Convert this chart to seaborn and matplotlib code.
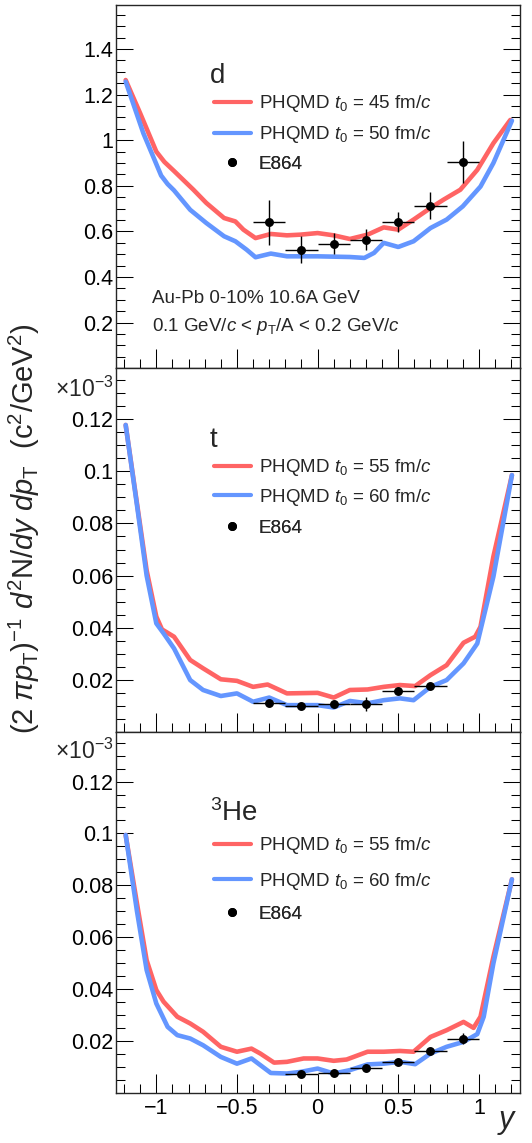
import numpy as np
import matplotlib
matplotlib.use("Agg")
import matplotlib.pyplot as plt
from matplotlib.ticker import MultipleLocator, FixedLocator, FuncFormatter
from matplotlib.lines import Line2D
import seaborn as sns

# ---------------- data ----------------
# deuterons
d_red_x = [-1.19, -1.1, -1.0, -0.95, -0.89, -0.77, -0.69, -0.58, -0.51, -0.46, -0.385, -0.29, -0.19, -0.107, 0.0, 0.1, 0.2, 0.31, 0.41, 0.5, 0.595, 0.7, 0.78, 0.885, 0.99, 1.09, 1.195]
d_red_v = [1.264, 1.118, 0.950, 0.905, 0.865, 0.783, 0.725, 0.659, 0.644, 0.608, 0.571, 0.589, 0.583, 0.586, 0.593, 0.583, 0.567, 0.586, 0.618, 0.608, 0.652, 0.703, 0.739, 0.783, 0.87, 0.987, 1.089]
d_blue_x = [-1.19, -1.08, -0.97, -0.93, -0.89, -0.79, -0.69, -0.58, -0.51, -0.44, -0.385, -0.29, -0.19, 0.0, 0.2, 0.29, 0.35, 0.41, 0.5, 0.595, 0.7, 0.8, 0.9, 1.01, 1.09, 1.205]
d_blue_v = [1.257, 1.03, 0.845, 0.808, 0.780, 0.695, 0.637, 0.579, 0.557, 0.520, 0.487, 0.503, 0.491, 0.491, 0.488, 0.484, 0.506, 0.55, 0.532, 0.557, 0.615, 0.652, 0.71, 0.797, 0.90, 1.086]
d_exp_x = [-0.3, -0.1, 0.1, 0.3, 0.5, 0.7, 0.9]
d_exp_v = [0.640, 0.520, 0.547, 0.564, 0.640, 0.713, 0.904]
d_exp_e = [0.099, 0.060, 0.046, 0.045, 0.044, 0.058, 0.091]

# tritons (x 1e-3)
t_red_x = [-1.19, -1.12, -1.06, -1.0, -0.965, -0.89, -0.79, -0.71, -0.6, -0.5, -0.4, -0.31, -0.19, 0.0, 0.1, 0.2, 0.31, 0.41, 0.51, 0.605, 0.7, 0.8, 0.905, 0.977, 1.01, 1.09, 1.205]
t_red_v = [0.1177, 0.0877, 0.062, 0.0443, 0.0394, 0.0366, 0.0277, 0.0245, 0.0203, 0.0197, 0.0174, 0.0183, 0.0149, 0.0151, 0.0133, 0.0162, 0.0164, 0.0174, 0.0181, 0.0177, 0.0219, 0.0257, 0.0343, 0.0366, 0.0404, 0.0673, 0.0985]
t_blue_x = [-1.19, -1.12, -1.06, -1.0, -0.955, -0.89, -0.79, -0.71, -0.6, -0.5, -0.4, -0.3, -0.19, 0.0, 0.1, 0.2, 0.31, 0.41, 0.51, 0.595, 0.7, 0.8, 0.905, 0.99, 1.09, 1.205]
t_blue_v = [0.1177, 0.0870, 0.060, 0.0417, 0.0379, 0.0321, 0.020, 0.0162, 0.0139, 0.0149, 0.0117, 0.0133, 0.0104, 0.0104, 0.0095, 0.012, 0.0111, 0.0123, 0.013, 0.0123, 0.0174, 0.02, 0.0264, 0.034, 0.0596, 0.0985]
t_exp_x = [-0.3, -0.1, 0.1, 0.3, 0.5, 0.7]
t_exp_v = [0.0114, 0.0100, 0.0107, 0.0108, 0.0159, 0.0178]
t_exp_e = [0.0015, 0.0008, 0.0010, 0.0028, 0.0010, 0.0012]

# helium-3 (x 1e-3)
he_red_x = [-1.19, -1.12, -1.06, -1.0, -0.955, -0.87, -0.79, -0.71, -0.6, -0.5, -0.41, -0.355, -0.27, -0.19, -0.087, 0.0, 0.1, 0.18, 0.31, 0.41, 0.51, 0.595, 0.7, 0.8, 0.905, 0.967, 1.01, 1.09, 1.205]
he_red_v = [0.0994, 0.073, 0.0511, 0.0396, 0.0351, 0.0293, 0.0267, 0.0235, 0.0177, 0.0158, 0.0170, 0.0151, 0.0116, 0.0119, 0.0132, 0.0132, 0.0123, 0.0128, 0.0158, 0.0158, 0.0161, 0.0158, 0.0215, 0.0241, 0.0273, 0.025, 0.0293, 0.0524, 0.0823]
he_blue_x = [-1.19, -1.12, -1.06, -1.0, -0.93, -0.87, -0.79, -0.71, -0.6, -0.5, -0.41, -0.29, -0.19, -0.107, 0.0, 0.1, 0.2, 0.31, 0.41, 0.51, 0.605, 0.7, 0.8, 0.905, 0.99, 1.03, 1.09, 1.205]
he_blue_v = [0.0994, 0.070, 0.0473, 0.0344, 0.0254, 0.0222, 0.0209, 0.0183, 0.0138, 0.0112, 0.0132, 0.0076, 0.0074, 0.008, 0.0093, 0.0074, 0.0087, 0.0109, 0.0112, 0.0119, 0.011, 0.0151, 0.0177, 0.0196, 0.0226, 0.0293, 0.0499, 0.0823]
he_exp_x = [-0.1, 0.1, 0.3, 0.5, 0.7, 0.9]
he_exp_v = [0.0071, 0.0076, 0.0097, 0.0119, 0.0161, 0.0209]
he_exp_e = [0.0007, 0.0007, 0.0008, 0.0008, 0.0010, 0.0020]

exp_xerr = 0.1

species = ["d", "t", r"$^{3}$He"]
red_labels = [r"PHQMD $t_{0}$ = 45 fm/$c$", r"PHQMD $t_{0}$ = 55 fm/$c$", r"PHQMD $t_{0}$ = 55 fm/$c$"]
blue_labels = [r"PHQMD $t_{0}$ = 50 fm/$c$", r"PHQMD $t_{0}$ = 60 fm/$c$", r"PHQMD $t_{0}$ = 60 fm/$c$"]
exp_label = "E864"
y_ticks_top = [0.2, 0.4, 0.6, 0.8, 1.0, 1.2, 1.4]
y_ticks_low = [0.02, 0.04, 0.06, 0.08, 0.10, 0.12]
x_ticks = [-1.0, -0.5, 0.0, 0.5, 1.0]

# ---------------- style ----------------
sns.set_style("ticks")
plt.rcParams["font.family"] = ["Liberation Sans", "DejaVu Sans"]
plt.rcParams["mathtext.fontset"] = "custom"
plt.rcParams["mathtext.rm"] = "Liberation Sans"
plt.rcParams["mathtext.it"] = "Liberation Sans:italic"
plt.rcParams["mathtext.bf"] = "Liberation Sans:bold"
plt.rcParams["axes.linewidth"] = 1.0

RED = "#ff6464"
BLUE = "#6496ff"

W, H = 532, 1143
fig = plt.figure(figsize=(W / 100, H / 100), dpi=100)

left = 116 / W
width = (520 - 116) / W
panels_px = [(5, 368.3), (368.3, 732.3), (732.3, 1092.7)]
axes = []
for top, bot in panels_px:
    ax = fig.add_axes([left, 1 - bot / H, width, (bot - top) / H])
    axes.append(ax)

data = [
    (d_red_x, d_red_v, d_blue_x, d_blue_v, d_exp_x, d_exp_v, d_exp_e),
    (t_red_x, t_red_v, t_blue_x, t_blue_v, t_exp_x, t_exp_v, t_exp_e),
    (he_red_x, he_red_v, he_blue_x, he_blue_v, he_exp_x, he_exp_v, he_exp_e),
]
ylims = [(0, 1.593), (0, 0.1394), (0, 0.139)]

def fmt_y(v, pos):
    return "%g" % round(v, 4)

def fmt_x(v, pos):
    return ("%g" % round(v, 3)).replace("-", "\u2212")

# legend row centres (pixels from figure top) and species label baselines
row_y = [(104, 135, 164), (468, 497, 528), (846, 881, 914)]
sp_base = [83, 447, 821]
TXT = 13.5

for i, ax in enumerate(axes):
    rx, rv, bx, bv, ex, ev, ee = data[i]
    sns.lineplot(x=rx, y=rv, ax=ax, color=RED, lw=3.3, sort=False, estimator=None)
    sns.lineplot(x=bx, y=bv, ax=ax, color=BLUE, lw=3.3, sort=False, estimator=None)
    ax.errorbar(ex, ev, xerr=exp_xerr, yerr=ee, fmt="o", color="black",
                ms=5.4, elinewidth=1.0, capsize=0, zorder=5)
    ax.set_xlim(-1.25, 1.255)
    ax.set_ylim(*ylims[i])
    ax.set_xlabel("")
    ax.set_ylabel("")
    ax.xaxis.set_major_locator(FixedLocator(x_ticks))
    ax.xaxis.set_minor_locator(MultipleLocator(0.1))
    if i == 0:
        ax.yaxis.set_major_locator(FixedLocator(y_ticks_top))
        ax.yaxis.set_minor_locator(MultipleLocator(0.05))
    else:
        ax.yaxis.set_major_locator(FixedLocator(y_ticks_low))
        ax.yaxis.set_minor_locator(MultipleLocator(0.005))
    ax.yaxis.set_major_formatter(FuncFormatter(fmt_y))
    ax.xaxis.set_major_formatter(FuncFormatter(fmt_x))
    ax.tick_params(which="both", direction="in", top=False, right=True,
                   labelsize=15.5, width=0.75, colors="black")
    ax.tick_params(axis="y", which="major", length=12.5, pad=2)
    ax.tick_params(axis="y", which="minor", length=6.5)
    ax.tick_params(axis="x", which="major", length=13.5, pad=4)
    ax.tick_params(axis="x", which="minor", length=6.8)
    if i < 2:
        ax.tick_params(axis="x", labelbottom=False)
    for s in ax.spines.values():
        s.set_linewidth(1.0)
        s.set_visible(True)

    top_px, bot_px = panels_px[i]
    hpx = bot_px - top_px

    def yfrac(py):
        return 1 - (py - top_px) / hpx

    handles = [Line2D([0], [0], color=RED, lw=3.0),
               Line2D([0], [0], color=BLUE, lw=3.0),
               Line2D([0], [0], color="black", marker="o", ls="none", ms=5.4)]
    labels = [red_labels[i], blue_labels[i], exp_label]
    for k in range(3):
        leg = ax.legend([handles[k]], [labels[k]], loc="center left",
                        bbox_to_anchor=((214 - 116) / 404, yfrac(row_y[i][k])),
                        frameon=False, fontsize=TXT, handlelength=1.95,
                        handletextpad=0.45, borderpad=0, borderaxespad=0)
        ax.add_artist(leg)

    ax.text((210 - 116) / 404, yfrac(sp_base[i]), species[i], fontsize=20,
            ha="left", va="baseline", transform=ax.transAxes)

# annotations in top panel
axes[0].text((152 - 116) / 404, 1 - (303 - 5) / 363.3, "Au-Pb 0-10% 10.6A GeV",
             fontsize=TXT, ha="left", va="baseline", transform=axes[0].transAxes)
axes[0].text((152 - 116) / 404, 1 - (331.5 - 5) / 363.3,
             r"0.1 GeV/$c$ < $p_{\rm T}$/A < 0.2 GeV/$c$",
             fontsize=TXT, ha="left", va="baseline", transform=axes[0].transAxes)

# x10^-3 multipliers
for py in (397, 759):
    fig.text(114 / W, 1 - py / H, r"$\times$10$^{-3}$",
             fontsize=16.5, ha="right", va="baseline")

# axis titles
fig.text(24 / W, 1 - 529 / H,
         r"(2 $\pi p_{\rm T}$)$^{-1}$ $d^{2}$N/$dy$ $dp_{\rm T}$  (c$^{2}$/GeV$^{2}$)",
         rotation=90, ha="center", va="center", fontsize=21)
fig.text(518 / W, 1 - 1128 / H, r"$y$", fontsize=22, ha="right", va="baseline")

fig.savefig("out.png", dpi=100)
